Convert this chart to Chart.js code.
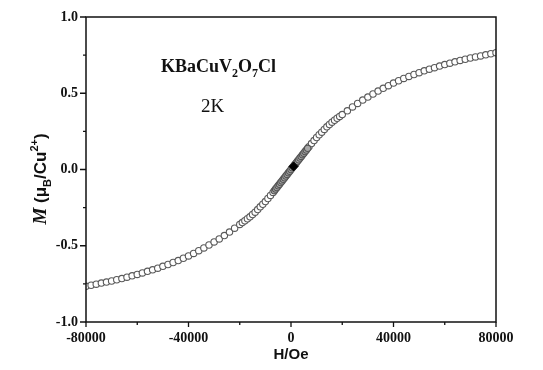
<!DOCTYPE html>
<html>
<head>
<meta charset="utf-8">
<script src="https://cdn.jsdelivr.net/npm/chart.js@4"></script>
<style>
  html, body { margin: 0; padding: 0; background: #fff; }
  #wrap { width: 543px; height: 370px; }
</style>
</head>
<body>
<div id="wrap"><canvas id="mhChart" width="543" height="370"></canvas></div>
<script>
// M(H) loop at 2K
const fieldOe = [
  -80000, -78000, -76000, -74000, -72000, -70000, -68000, -66000, -64000, -62000,
  -60000, -58000, -56000, -54000, -52000, -50000, -48000, -46000, -44000, -42000,
  -40000, -38000, -36000, -34000, -32000, -30000, -28000, -26000, -24000, -22000,
  -20000, -19000, -18000, -17000, -16000, -15000, -14000, -13000, -12000, -11000,
  -10000, -9000, -8000, -7000,
  7000, 8000, 9000, 10000, 11000, 12000, 13000, 14000, 15000, 16000,
  17000, 18000, 19000, 20000, 22000, 24000, 26000, 28000, 30000, 32000,
  34000, 36000, 38000, 40000, 42000, 44000, 46000, 48000, 50000, 52000,
  54000, 56000, 58000, 60000, 62000, 64000, 66000, 68000, 70000, 72000,
  74000, 76000, 78000, 80000
];
const moment = [
  -0.766, -0.759, -0.752, -0.745, -0.738, -0.731, -0.723, -0.715, -0.706, -0.697,
  -0.688, -0.678, -0.668, -0.658, -0.647, -0.635, -0.623, -0.610, -0.597, -0.582,
  -0.567, -0.550, -0.532, -0.514, -0.495, -0.475, -0.455, -0.433, -0.410, -0.385,
  -0.360, -0.348, -0.336, -0.323, -0.310, -0.295, -0.280, -0.263, -0.245, -0.228,
  -0.210, -0.190, -0.170, -0.150,
  0.150, 0.170, 0.190, 0.210, 0.228, 0.245, 0.263, 0.280, 0.295, 0.310,
  0.323, 0.336, 0.348, 0.360, 0.385, 0.410, 0.433, 0.455, 0.475, 0.495,
  0.514, 0.532, 0.550, 0.567, 0.582, 0.597, 0.610, 0.623, 0.635, 0.647,
  0.658, 0.668, 0.678, 0.688, 0.697, 0.706, 0.715, 0.723, 0.731, 0.738,
  0.745, 0.752, 0.759, 0.766
];
// dense low-field sweep that shows as a grey band
const bandField = [
  -6500, -6000, -5500, -5000, -4500, -4000, -3500, -3000, -2500, -2000, -1500, -1000, -500,
  0, 500, 1000, 1500, 2000, 2500, 3000, 3500, 4000, 4500, 5000, 5500, 6000, 6500
];
const bandMoment = [
  -0.139, -0.128, -0.118, -0.107, -0.097, -0.086, -0.075, -0.064, -0.054, -0.043, -0.032, -0.021, -0.011,
  0.000, 0.011, 0.021, 0.032, 0.043, 0.054, 0.064, 0.075, 0.086, 0.097, 0.107, 0.118, 0.128, 0.139
];
const markerField = [1000];
const markerMoment = [0.02];

const xMajor = [-80000, -40000, 0, 40000, 80000];
const xMinor = [-60000, -20000, 20000, 60000];
const yMajor = [-1.0, -0.5, 0.0, 0.5, 1.0];
const yMinor = [-0.75, -0.25, 0.25, 0.75];

const pts = (xs, ys) => xs.map((x, i) => ({ x: x, y: ys[i] }));

const frame = {
  id: 'frame',
  afterDatasetsDraw(chart) {
    const { ctx, chartArea: a, scales } = chart;
    ctx.save();
    ctx.strokeStyle = '#111';
    ctx.lineWidth = 1.5;
    ctx.strokeRect(a.left, a.top, a.right - a.left, a.bottom - a.top);
    ctx.lineWidth = 1.3;
    ctx.beginPath();
    xMajor.forEach(v => { const p = scales.x.getPixelForValue(v); ctx.moveTo(p, a.bottom); ctx.lineTo(p, a.bottom + 5); });
    xMinor.forEach(v => { const p = scales.x.getPixelForValue(v); ctx.moveTo(p, a.bottom); ctx.lineTo(p, a.bottom + 3); });
    yMajor.forEach(v => { const p = scales.y.getPixelForValue(v); ctx.moveTo(a.left - 6, p); ctx.lineTo(a.left, p); });
    yMinor.forEach(v => { const p = scales.y.getPixelForValue(v); ctx.moveTo(a.left - 3, p); ctx.lineTo(a.left, p); });
    ctx.stroke();
    ctx.restore();
  },
  afterDraw(chart) {
    const ctx = chart.ctx;
    const a = chart.chartArea;
    ctx.save();
    ctx.fillStyle = '#111';
    ctx.textBaseline = 'alphabetic';

    // x title
    ctx.font = 'bold 15px "Liberation Sans", Arial, sans-serif';
    ctx.textAlign = 'center';
    ctx.fillText('H/Oe', (a.left + a.right) / 2, 359);

    // y title, rotated, built from pieces
    const pieces = [
      { t: 'M', f: 'italic bold 19px "Liberation Serif", serif', dy: 0 },
      { t: ' (\u03bc', f: 'bold 17px "Liberation Sans", Arial, sans-serif', dy: 0 },
      { t: 'B', f: 'bold 11px "Liberation Sans", Arial, sans-serif', dy: 5 },
      { t: '/Cu', f: 'bold 17px "Liberation Sans", Arial, sans-serif', dy: 0 },
      { t: '2+', f: 'bold 11px "Liberation Sans", Arial, sans-serif', dy: -8 },
      { t: ')', f: 'bold 17px "Liberation Sans", Arial, sans-serif', dy: 0 }
    ];
    let total = 0;
    pieces.forEach(p => { ctx.font = p.f; p.w = ctx.measureText(p.t).width; total += p.w; });
    ctx.translate(46, 179);
    ctx.rotate(-Math.PI / 2);
    ctx.textAlign = 'left';
    let x = -total / 2;
    pieces.forEach(p => { ctx.font = p.f; ctx.fillText(p.t, x, p.dy); x += p.w; });
    ctx.setTransform(1, 0, 0, 1, 0, 0);

    // compound label
    const label = [
      { t: 'KBaCuV', s: 18, dy: 0 }, { t: '2', s: 12, dy: 5 },
      { t: 'O', s: 18, dy: 0 }, { t: '7', s: 12, dy: 5 },
      { t: 'Cl', s: 18, dy: 0 }
    ];
    let lx = 161;
    label.forEach(p => {
      ctx.font = 'bold ' + p.s + 'px "Liberation Serif", serif';
      ctx.fillText(p.t, lx, 72 + p.dy);
      lx += ctx.measureText(p.t).width;
    });
    ctx.font = '19px "Liberation Serif", serif';
    ctx.fillText('2K', 201, 112);
    ctx.restore();
  }
};

const tickFont = { family: '"Liberation Serif", serif', size: 14, weight: 'bold' };

new Chart(document.getElementById('mhChart').getContext('2d'), {
  type: 'scatter',
  data: {
    datasets: [
      {
        label: 'marker',
        data: pts(markerField, markerMoment),
        pointStyle: 'rectRot',
        pointRadius: 4.5,
        backgroundColor: '#000',
        borderColor: '#000',
        borderWidth: 1,
        order: 0
      },
      {
        label: 'low field',
        data: pts(bandField, bandMoment),
        pointRadius: 3.2,
        backgroundColor: '#a8a8a8',
        borderColor: '#555',
        borderWidth: 1.1,
        order: 1
      },
      {
        label: 'M(H)',
        data: pts(fieldOe, moment),
        pointRadius: 3.2,
        backgroundColor: '#fff',
        borderColor: '#5a5a5a',
        borderWidth: 1.1,
        order: 2
      }
    ]
  },
  options: {
    responsive: false,
    animation: false,
    layout: { padding: { left: 0, right: 47, top: 17, bottom: 0 } },
    plugins: { legend: { display: false }, tooltip: { enabled: false } },
    scales: {
      x: {
        type: 'linear',
        min: -80000,
        max: 80000,
        afterFit: s => { s.height = 48; },
        grid: { display: false, drawTicks: false },
        border: { display: false },
        ticks: {
          stepSize: 40000,
          padding: 8,
          color: '#111',
          font: tickFont,
          maxRotation: 0,
          callback: v => String(v)
        }
      },
      y: {
        min: -1,
        max: 1,
        afterFit: s => { s.width = 86; },
        grid: { display: false, drawTicks: false },
        border: { display: false },
        ticks: {
          stepSize: 0.5,
          padding: 8,
          color: '#111',
          font: tickFont,
          callback: v => v.toFixed(1)
        }
      }
    }
  },
  plugins: [frame]
});
</script>
</body>
</html>
